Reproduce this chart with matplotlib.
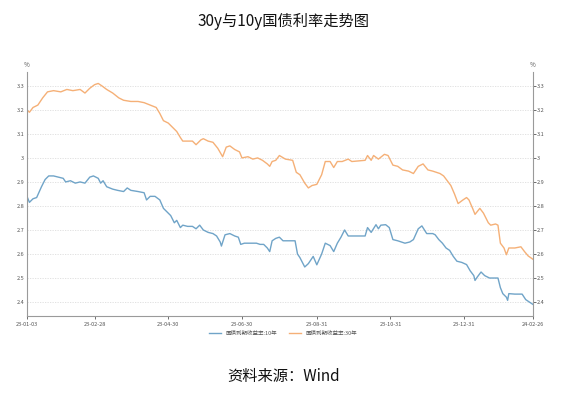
import matplotlib
matplotlib.use("Agg")
import matplotlib.pyplot as plt
import pandas as pd

plt.rcParams["font.family"] = ["Noto Sans CJK SC", "DejaVu Sans"]

start_date = "2023-01-03"
end_date = "2024-02-26"

# days since 2023-01-03, values in %
days_30y = [0, 2, 5, 9, 13, 17, 22, 28, 33, 38, 44, 48, 52, 56, 59, 62, 66, 71, 76, 80,
            86, 92, 97, 102, 107, 110, 113, 117, 121, 124, 127, 129, 133, 137, 140, 144,
            146, 150, 154, 158, 162, 165, 168, 172, 176, 178, 183, 187, 191, 195, 199, 201,
            203, 206, 209, 214, 220, 223, 226, 230, 233, 236, 240, 244, 247, 251, 254, 257,
            261, 266, 269, 280, 282, 285, 287, 291, 296, 299, 303, 307, 311, 316, 320, 324,
            328, 332, 336, 339, 342, 345, 348, 351, 354, 357, 361, 364, 366, 369, 371, 375,
            378, 382, 384, 388, 390, 392, 395, 397, 399, 404, 409, 412, 415, 419]
yield_30y = [3.20, 3.19, 3.21, 3.22, 3.25, 3.275, 3.28, 3.275, 3.285, 3.28, 3.285, 3.27,
             3.29, 3.305, 3.31, 3.30, 3.285, 3.27, 3.25, 3.24, 3.235, 3.235, 3.23, 3.22,
             3.21, 3.185, 3.155, 3.145, 3.125, 3.11, 3.085, 3.07, 3.07, 3.07, 3.055, 3.075,
             3.08, 3.07, 3.065, 3.04, 3.005, 3.045, 3.05, 3.035, 3.025, 3.0, 3.005, 2.995,
             3.0, 2.99, 2.975, 2.965, 2.985, 2.99, 3.01, 2.995, 2.99, 2.94, 2.93, 2.895,
             2.875, 2.885, 2.89, 2.93, 2.985, 2.985, 2.96, 2.985, 2.985, 2.995, 2.985, 2.99,
             3.01, 2.99, 3.01, 2.995, 3.015, 3.01, 2.97, 2.965, 2.95, 2.945, 2.935, 2.965,
             2.975, 2.95, 2.945, 2.94, 2.935, 2.925, 2.905, 2.885, 2.85, 2.81, 2.825, 2.835,
             2.825, 2.79, 2.765, 2.79, 2.77, 2.73, 2.72, 2.725, 2.72, 2.645, 2.625, 2.597,
             2.625, 2.625, 2.63, 2.61, 2.592, 2.578]

days_10y = [0, 2, 5, 8, 12, 15, 18, 22, 26, 30, 32, 36, 40, 44, 48, 52, 55, 59, 61, 63,
            66, 71, 75, 80, 83, 86, 92, 97, 99, 102, 106, 110, 113, 116, 119, 122, 124, 127,
            129, 133, 137, 140, 143, 146, 150, 154, 157, 160, 161, 164, 168, 172, 175, 177,
            180, 185, 190, 193, 196, 199, 201, 203, 206, 209, 212, 216, 222, 224, 226, 230,
            233, 237, 240, 244, 247, 251, 254, 257, 260, 263, 266, 275, 280, 282, 285, 289,
            291, 293, 297, 300, 303, 307, 313, 317, 320, 324, 327, 331, 336, 338, 341, 344,
            347, 350, 353, 356, 360, 364, 367, 370, 371, 373, 376, 379, 383, 387, 390, 392,
            394, 397, 398, 399, 404, 410, 413, 416, 419]
yield_10y = [2.84, 2.815, 2.83, 2.835, 2.88, 2.91, 2.925, 2.925, 2.92, 2.915, 2.9, 2.905,
             2.895, 2.9, 2.895, 2.92, 2.925, 2.915, 2.895, 2.905, 2.88, 2.87, 2.865, 2.86,
             2.875, 2.865, 2.86, 2.855, 2.825, 2.84, 2.84, 2.825, 2.79, 2.775, 2.76, 2.73,
             2.74, 2.71, 2.72, 2.715, 2.715, 2.705, 2.72, 2.7, 2.69, 2.685, 2.675, 2.65,
             2.633, 2.68, 2.685, 2.675, 2.67, 2.64, 2.645, 2.645, 2.645, 2.64, 2.64, 2.625,
             2.61, 2.655, 2.665, 2.67, 2.655, 2.655, 2.655, 2.6, 2.585, 2.546, 2.56, 2.59,
             2.555, 2.6, 2.645, 2.635, 2.61, 2.645, 2.67, 2.7, 2.675, 2.675, 2.675, 2.71,
             2.69, 2.722, 2.705, 2.72, 2.722, 2.71, 2.66, 2.655, 2.645, 2.65, 2.66, 2.705,
             2.717, 2.685, 2.685, 2.68, 2.66, 2.645, 2.625, 2.615, 2.59, 2.57, 2.565, 2.556,
             2.53, 2.51, 2.49, 2.505, 2.525, 2.51, 2.5, 2.5, 2.5, 2.46, 2.435, 2.42, 2.407,
             2.435, 2.433, 2.433, 2.41, 2.4, 2.39]

x_ticks = ["2023-01-03", "2023-02-28", "2023-04-30", "2023-06-30", "2023-08-31",
           "2023-10-31", "2023-12-31", "2024-02-26"]
y_ticks = [2.4, 2.5, 2.6, 2.7, 2.8, 2.9, 3.0, 3.1, 3.2, 3.3]
y_tick_labels = ["2.4", "2.5", "2.6", "2.7", "2.8", "2.9", "3", "3.1", "3.2", "3.3"]

label_10y = "国债到期收益率:10年"
label_30y = "国债到期收益率:30年"

t0 = pd.Timestamp(start_date)
dates_30y = t0 + pd.to_timedelta(days_30y, unit="D")
dates_10y = t0 + pd.to_timedelta(days_10y, unit="D")

axis_color = "#9a9a9a"
text_color = "#555555"

fig = plt.figure(figsize=(5.67, 3.93), dpi=100)
ax = fig.add_axes([0.0476, 0.196, 0.8924, 0.621])

ax.plot(dates_10y, yield_10y, color="#70a4c8", linewidth=1.0, label=label_10y)
ax.plot(dates_30y, yield_30y, color="#f5b077", linewidth=1.0, label=label_30y)

ax.set_xlim(pd.Timestamp(start_date), pd.Timestamp(end_date))
ax.set_ylim(2.342, 3.358)
ax.set_yticks(y_ticks)
ax.set_yticklabels(y_tick_labels)
ax.set_xticks(pd.to_datetime(x_ticks))
ax.set_xticklabels([pd.Timestamp(d).strftime("%y-%m-%d") for d in x_ticks])
ax.tick_params(axis="both", labelsize=4, colors=text_color, length=2, width=0.6, pad=2)
ax.tick_params(axis="y", length=0)
ax.grid(axis="y", color="#dddddd", linestyle=(0, (1.5, 1.5)), linewidth=0.6)

for side in ["left", "bottom"]:
    ax.spines[side].set_color(axis_color)
    ax.spines[side].set_linewidth(0.8)
ax.spines["top"].set_visible(False)
ax.spines["right"].set_visible(False)

ax_r = ax.twinx()
ax_r.set_ylim(ax.get_ylim())
ax_r.set_yticks(y_ticks)
ax_r.set_yticklabels(y_tick_labels)
ax_r.tick_params(axis="y", labelsize=4, colors=text_color, length=2, width=0.6, pad=1)
for side in ["left", "top", "bottom"]:
    ax_r.spines[side].set_visible(False)
ax_r.spines["right"].set_color(axis_color)
ax_r.spines["right"].set_linewidth(0.8)

fig.text(27 / 567, 1 - 65 / 393, "%", fontsize=4.5, color=text_color, ha="center", va="center")
fig.text(533 / 567, 1 - 65 / 393, "%", fontsize=4.5, color=text_color, ha="center", va="center")

fig.legend(loc="center", bbox_to_anchor=(283 / 567, 1 - 333 / 393), ncol=2, frameon=False,
           fontsize=4, handlelength=2.2, columnspacing=2.0, labelcolor=text_color)

fig.text(0.5, 1 - 22 / 393, "30y与10y国债利率走势图", fontsize=11, ha="center", va="center",
         color="#111111")
fig.text(0.5, 1 - 376 / 393, "资料来源：Wind", fontsize=11, ha="center", va="center",
         color="#111111")

fig.savefig("out.png", dpi=100)
